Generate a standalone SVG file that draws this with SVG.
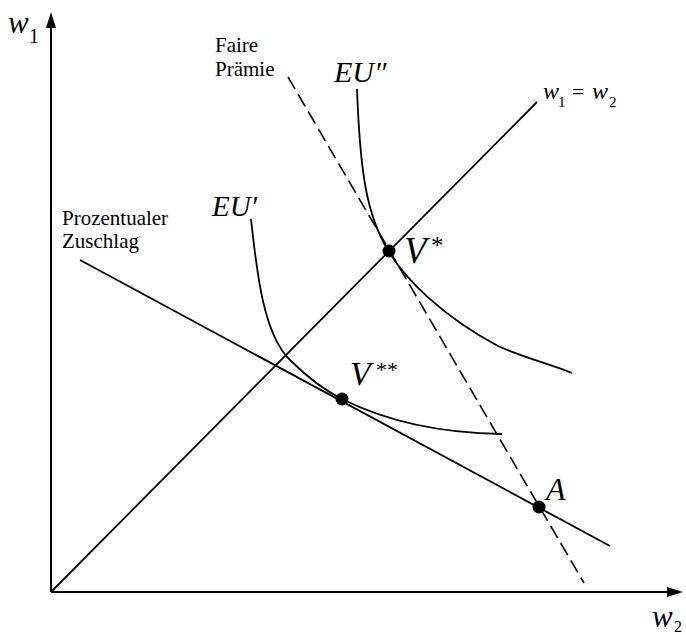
<svg xmlns="http://www.w3.org/2000/svg" width="686" height="635" viewBox="0 0 686 635">
<style>
.ax{stroke:#000;stroke-width:2;fill:none}
.ln{stroke:#000;stroke-width:1.8;fill:none}
.ds{stroke:#000;stroke-width:1.6;fill:none;stroke-dasharray:14 6}
.cv{stroke:#000;stroke-width:1.8;fill:none}
.it{font-family:"Times New Roman","Liberation Serif","DejaVu Serif",serif;font-style:italic;fill:#000}
.rm{font-family:"Times New Roman","Liberation Serif","DejaVu Serif",serif;fill:#000}
.lbl{font-family:"Times New Roman","Liberation Serif","DejaVu Serif",serif;font-size:21px;fill:#000}
.dot{fill:#000}
</style>
<rect width="686" height="635" fill="#fff"/>
<g id="axes">
<line class="ax" x1="51" y1="592" x2="51" y2="26"/>
<polygon points="51,12 46,28 56,28" fill="#000"/>
<line class="ax" x1="51" y1="592" x2="669" y2="592"/>
<polygon points="683,592 667,587 667,597" fill="#000"/>
<text class="it" x="8" y="33" font-size="31">w</text>
<text class="rm" x="29" y="43" font-size="20">1</text>
<text class="it" x="652" y="627" font-size="31">w</text>
<text class="rm" x="674" y="632" font-size="16">2</text>
</g>
<g id="connectors">
<line id="diagonal" class="ln" x1="51" y1="592" x2="537" y2="102"/>
<line id="zuschlag-line" class="ln" x1="80" y1="260" x2="610" y2="546"/>
<line id="faire-line" class="ds" x1="288" y1="77" x2="584" y2="583"/>
<path id="EU2-curve" class="cv" d="M357,89 C360,170 366,215 389,252 C405,278 440,315 498,346 C525,358 550,364 572,373"/>
<path id="EU1-curve" class="cv" d="M251,219 C257,275 264,335 290,360 C305,375 320,388 342,399 C380,418 430,433 502,434"/>
</g>
<g id="label-diagonal">
<text class="it" x="543" y="99" font-size="24">w</text>
<text class="rm" x="558" y="107" font-size="15">1</text>
<text class="rm" x="572" y="99" font-size="22">=</text>
<text class="it" x="592" y="99" font-size="24">w</text>
<text class="rm" x="609" y="107" font-size="15">2</text>
</g>
<g id="label-faire">
<text class="lbl" x="215" y="52">Faire</text>
<text class="lbl" x="215" y="76">Prämie</text>
</g>
<g id="label-zuschlag">
<text class="lbl" x="62" y="225">Prozentualer</text>
<text class="lbl" x="62" y="248">Zuschlag</text>
</g>
<g id="label-EU2">
<text class="it" x="334" y="82" font-size="30">EU″</text>
</g>
<g id="label-EU1">
<text class="it" x="212" y="216" font-size="29">EU′</text>
</g>
<g id="node-Vstar">
<circle class="dot" cx="389" cy="251" r="6.5"/>
<text class="it" x="404" y="263" font-size="37">V</text>
<text class="rm" x="431" y="254" font-size="25">*</text>
</g>
<g id="node-Vstarstar">
<circle class="dot" cx="342" cy="399" r="6.5"/>
<text class="it" x="350" y="385" font-size="34">V</text>
<text class="rm" x="376" y="377" font-size="22">**</text>
</g>
<g id="node-A">
<circle class="dot" cx="539" cy="507" r="6.5"/>
<text class="it" x="546" y="500" font-size="32">A</text>
</g>
</svg>
